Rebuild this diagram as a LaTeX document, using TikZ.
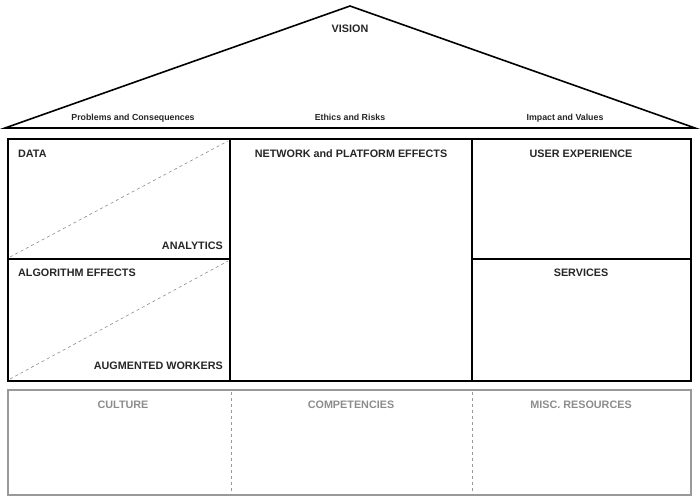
\documentclass[tikz,border=0pt]{standalone}
\usepackage{fontspec}
\setmainfont{Liberation Sans}
\usetikzlibrary{positioning}
\tikzset{
  frame/.style={line width=1.6pt,black},
  softframe/.style={line width=1.2pt,black!40},
  diag/.style={dashed,black!45,line width=0.6pt},
  lab/.style={font=\bfseries\fontsize{10.8}{12}\selectfont,text=black!85,inner sep=0pt,text height=0.72em,text depth=0pt},
  sublab/.style={lab,font=\bfseries\fontsize{8.8}{10}\selectfont},
  greylab/.style={lab,text=black!45}
}
\begin{document}
\begin{tikzpicture}[x=1pt,y=-1pt]
\useasboundingbox (0,0) rectangle (700,501);
% roof
\draw[frame,line join=miter] (5,128)--(350,6)--(695,128)--cycle;
\node[lab] (vision) at (350,28.5){VISION};
\foreach \x/\name/\txt in {133/probs/Problems and Consequences,350/ethics/Ethics and Risks,565/impact/Impact and Values}{\node[sublab] (\name) at (\x,116.5){\txt};}
% main body
\draw[frame] (8,139) rectangle (691,381);
\draw[frame] (230,139)--(230,381) (472,139)--(472,381);
\draw[frame] (8,259)--(230,259) (472,259)--(691,259);
\draw[diag] (10,257)--(228,141);
\draw[diag] (10,379)--(228,261);
\node[lab,anchor=west] (data) at (18,153.5){DATA};
\node[lab,anchor=east] (analytics) at (223,245.5){ANALYTICS};
\node[lab,anchor=west] (algo) at (18,272.5){ALGORITHM EFFECTS};
\node[lab,anchor=east] (workers) at (223,365.5){AUGMENTED WORKERS};
\node[lab] (network) at (351,153.5){NETWORK and PLATFORM EFFECTS};
\node[lab] (ux) at (581,153.5){USER EXPERIENCE};
\node[lab] (services) at (581,272.5){SERVICES};
% foundation
\draw[softframe] (8,390) rectangle (691,495);
\draw[softframe,dashed,line width=0.8pt] (231,392)--(231,493) (472,392)--(472,493);
\foreach \x/\name/\txt in {123/culture/CULTURE,351/comp/COMPETENCIES,581/misc/MISC. RESOURCES}{\node[greylab] (\name) at (\x,404.5){\txt};}
\end{tikzpicture}
\end{document}
